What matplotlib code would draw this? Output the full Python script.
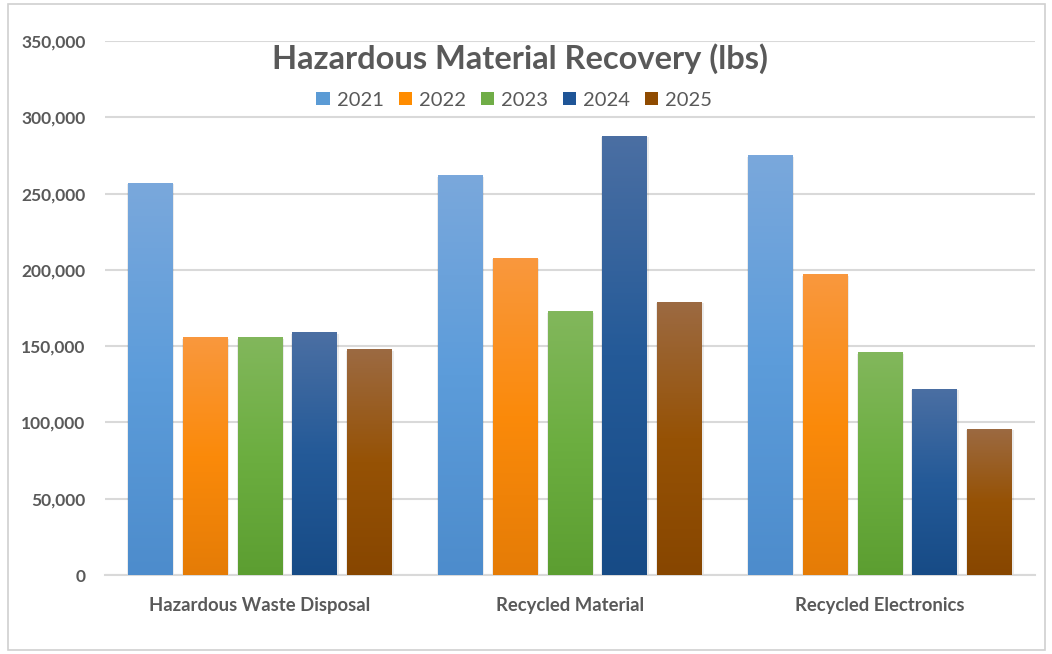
import numpy as np
import matplotlib
matplotlib.use("Agg")
import matplotlib.pyplot as plt
from matplotlib.colors import LinearSegmentedColormap
from matplotlib.patches import Rectangle
from matplotlib.ticker import FuncFormatter

categories = ["Hazardous Waste Disposal", "Recycled Material", "Recycled Electronics"]
years = ["2021", "2022", "2023", "2024", "2025"]
values_2021 = [257000, 262000, 275000]
values_2022 = [156000, 208000, 197000]
values_2023 = [156000, 173000, 146000]
values_2024 = [159000, 288000, 122000]
values_2025 = [148000, 179000, 96000]
series = [values_2021, values_2022, values_2023, values_2024, values_2025]

# top / middle / bottom colours of the gradient fill
base_colors = ["#5b9bd5", "#ff8c00", "#70ad47", "#1f5597", "#8f4b00"]
gradients = [
    ["#7aa8dc", "#5c9cda", "#4d8ccc"],
    ["#f9983e", "#fb8a0a", "#e57c06"],
    ["#82b75c", "#6cae40", "#5c9e31"],
    ["#4b6fa3", "#245a98", "#174b86"],
    ["#9c6a42", "#965205", "#874600"],
]

text_gray = "#595959"
grid_gray = "#d9d9d9"
font = ["Lato", "DejaVu Sans"]

fig = plt.figure(figsize=(10.52, 6.54), dpi=100)
fig.patch.set_facecolor("white")
fig.patches.append(Rectangle((8 / 1052, 4 / 654), 1037 / 1052, 646 / 654,
                             transform=fig.transFigure, fill=False,
                             edgecolor="#d0d0d0", linewidth=1.2))

ax = fig.add_axes([105 / 1052, 1 - 575 / 654, 930 / 1052, 534 / 654])

x = np.arange(len(categories))
slot = 0.177
width = 0.145
grad = np.linspace(0, 1, 256).reshape(-1, 1)

handles = []
for i, (vals, cols) in enumerate(zip(series, gradients)):
    offs = x + (i - 2) * slot
    bars = ax.bar(offs, vals, width=width, color=base_colors[i], label=years[i],
                  zorder=3, linewidth=0)
    cmap = LinearSegmentedColormap.from_list(f"g{i}", cols[::-1])
    for b in bars:
        bx, by = b.get_x(), b.get_y()
        bw, bh = b.get_width(), b.get_height()
        # soft shadow
        ax.add_patch(Rectangle((bx - 0.003, by), bw + 0.008, bh - 1000, facecolor="#000000",
                               alpha=0.08, linewidth=0, zorder=2))
        im = ax.imshow(grad, extent=[bx, bx + bw, by, by + bh], origin="lower",
                       cmap=cmap, aspect="auto", zorder=4)
        im.set_clip_path(b)
        b.set_alpha(0)
    handles.append(Rectangle((0, 0), 1, 1, facecolor=base_colors[i]))

ax.set_aspect("auto")
ax.set_xlim(-0.5, 2.5)
ax.set_ylim(0, 350000)

ax.set_yticks(np.arange(0, 350001, 50000))
ax.yaxis.set_major_formatter(FuncFormatter(lambda v, p: f"{int(v):,}"))
ax.yaxis.grid(True, color=grid_gray, linewidth=1.5, zorder=0)
ax.set_axisbelow(True)
for s in ["top", "right", "left"]:
    ax.spines[s].set_visible(False)
ax.spines["bottom"].set_color(grid_gray)
ax.spines["bottom"].set_linewidth(1.5)
ax.tick_params(axis="y", length=0, pad=14, labelsize=12.5, labelcolor=text_gray)
ax.tick_params(axis="x", length=0, pad=16, labelsize=13.3, labelcolor=text_gray)
ax.set_xticks(x)
ax.set_xticklabels(categories)
for lab in ax.get_xticklabels() + ax.get_yticklabels():
    lab.set_fontfamily(font)
    lab.set_fontweight("bold")

fig.text(0.494, 0.911, "Hazardous Material Recovery (lbs)", ha="center", va="center",
         fontsize=23.5, fontweight="bold", color=text_gray, family=font)

leg = fig.legend(handles, years, loc="center", bbox_to_anchor=(0.489, 0.847), ncol=5,
                 frameon=False, handlelength=0.65, handleheight=0.65,
                 handletextpad=0.35, columnspacing=0.75,
                 prop={"family": font, "size": 14.5})
for t in leg.get_texts():
    t.set_color(text_gray)

fig.savefig("out.png", dpi=100, facecolor="white")
